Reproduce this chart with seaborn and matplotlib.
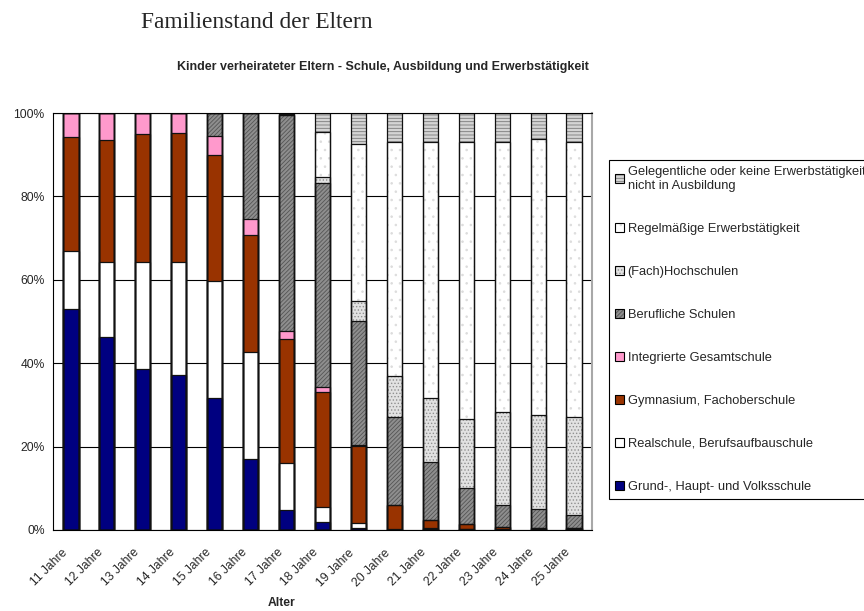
import matplotlib
matplotlib.use("Agg")
import matplotlib.pyplot as plt
import matplotlib.transforms as mtransforms
import seaborn as sns
import pandas as pd
from matplotlib.patches import Patch

# Data (percent of children per age group)
ages = ["11 Jahre", "12 Jahre", "13 Jahre", "14 Jahre", "15 Jahre", "16 Jahre", "17 Jahre",
        "18 Jahre", "19 Jahre", "20 Jahre", "21 Jahre", "22 Jahre", "23 Jahre", "24 Jahre", "25 Jahre"]
grund = [53.0, 46.4, 38.6, 37.1, 31.7, 17.1, 4.8, 1.9, 0.5, 0.1, 0.2, 0.2, 0.1, 0.1, 0.1]
real = [14.0, 17.8, 25.7, 27.2, 28.1, 25.5, 11.2, 3.5, 1.1, 0.1, 0.2, 0.1, 0.1, 0.1, 0.1]
gym = [27.2, 29.4, 30.7, 30.9, 30.2, 28.2, 29.9, 27.6, 18.6, 5.9, 2.0, 1.2, 0.6, 0.3, 0.3]
igs = [5.8, 6.4, 5.0, 4.8, 4.4, 3.8, 1.9, 1.2, 0.2, 0.0, 0.0, 0.0, 0.0, 0.0, 0.0]
beruf = [0.0, 0.0, 0.0, 0.0, 5.6, 25.4, 51.7, 49.0, 29.7, 20.9, 14.0, 8.5, 5.1, 4.6, 3.2]
hoch = [0.0, 0.0, 0.0, 0.0, 0.0, 0.0, 0.0, 1.4, 4.7, 10.0, 15.2, 16.7, 22.5, 22.4, 23.5]
regel = [0.0, 0.0, 0.0, 0.0, 0.0, 0.0, 0.3, 10.8, 37.8, 56.0, 61.4, 66.4, 64.6, 66.3, 65.8]
geleg = [0.0, 0.0, 0.0, 0.0, 0.0, 0.0, 0.2, 4.6, 7.4, 7.0, 7.0, 6.9, 7.0, 6.2, 7.0]

labels = ["Grund-, Haupt- und Volksschule", "Realschule, Berufsaufbauschule",
          "Gymnasium, Fachoberschule", "Integrierte Gesamtschule", "Berufliche Schulen",
          "(Fach)Hochschulen", "Regelmäßige Erwerbstätigkeit",
          "Gelegentliche oder keine Erwerbstätigkeit,\nnicht in Ausbildung"]

# face colour, hatch, hatch colour
styles = [
    ("#000080", None, "#000080"),
    ("#ffffff", None, "#ffffff"),
    ("#993300", None, "#993300"),
    ("#ff99cc", None, "#ff99cc"),
    ("#8e8e8e", "////////", "#555555"),
    ("#e2e2e2", ".....", "#909090"),
    ("#ffffff", "..", "#dcdcdc"),
    ("#d4d4d4", "-----", "#7a7a7a"),
]

df = pd.DataFrame({"Alter": ages})
for lab, vals in zip(labels, [grund, real, gym, igs, beruf, hoch, regel, geleg]):
    df[lab] = vals
cum = df[labels].cumsum(axis=1)

sns.set_theme(style="white")
plt.rcParams["font.family"] = ["Liberation Sans", "DejaVu Sans"]
plt.rcParams["hatch.linewidth"] = 0.6

fig = plt.figure(figsize=(8.64, 6.11), dpi=100)
ax = fig.add_axes([53 / 864, 1 - 530 / 611, (592 - 53) / 864, (530 - 113) / 611])

# filled segments: draw cumulative bars from top series down
for lab, (face, hatch, hcol) in reversed(list(zip(labels, styles))):
    sns.barplot(x=df["Alter"], y=cum[lab], color=face, saturation=1, width=0.42,
                hatch=hatch, edgecolor=hcol, linewidth=0, errorbar=None, ax=ax)
# outlines of segments
for lab in labels:
    sns.barplot(x=df["Alter"], y=cum[lab], fill=False, color="#111111", width=0.42,
                linewidth=0.9, errorbar=None, ax=ax)

ax.set_xlim(-0.5, 14.5)
ax.set_ylim(0, 100)
ax.set_yticks([0, 20, 40, 60, 80, 100])
ax.set_yticklabels(["0%", "20%", "40%", "60%", "80%", "100%"], fontsize=8.7)
ax.yaxis.grid(True, color="black", linewidth=0.8)
ax.set_axisbelow(True)
ax.set_xlabel("")
ax.set_ylabel("")

ax.set_xticks(range(len(ages)))
ax.set_xticks([i - 0.5 for i in range(len(ages) + 1)], minor=True)
ax.tick_params(axis="x", which="major", length=0, pad=12)
ax.tick_params(axis="x", which="minor", length=4, width=0.8, direction="out", color="black")
ax.tick_params(axis="y", length=4, width=0.8, direction="out", color="black", pad=2)
ax.set_xticklabels(ages, rotation=45, ha="right", rotation_mode="anchor", fontsize=8.7)
shift = mtransforms.ScaledTranslation(-10 / 100, 0, fig.dpi_scale_trans)
for t in ax.get_xticklabels():
    t.set_transform(t.get_transform() + shift)

for s in ["left", "bottom", "top"]:
    ax.spines[s].set_color("black")
    ax.spines[s].set_linewidth(0.8)
ax.spines["right"].set_color("#a8a8a8")
ax.spines["right"].set_linewidth(1.5)

# legend (top to bottom in reverse stacking order)
handles = []
for face, hatch, hcol in reversed(styles):
    handles.append((Patch(facecolor=face, hatch=hatch, edgecolor=hcol, linewidth=0),
                    Patch(facecolor="none", edgecolor="black", linewidth=0.8)))
leg = fig.legend(handles, list(reversed(labels)), loc="upper left",
                 bbox_to_anchor=(609 / 864, 1 - 160 / 611), borderaxespad=0,
                 frameon=True, fancybox=False, edgecolor="black", framealpha=1,
                 fontsize=9.3, labelspacing=2.4, handlelength=0.7, handleheight=0.7,
                 handletextpad=0.3, borderpad=0.45)
leg.get_frame().set_linewidth(0.8)

fig.text(257 / 864, 1 - 22 / 611, "Familienstand der Eltern", family=["Liberation Serif"],
         fontsize=16.8, ha="center", va="center")
fig.text(383 / 864, 1 - 67 / 611, "Kinder verheirateter Eltern - Schule, Ausbildung und Erwerbstätigkeit",
         fontsize=9.0, fontweight="bold", ha="center", va="center")
fig.text(282 / 864, 1 - 603 / 611, "Alter", fontsize=8.7, fontweight="bold", ha="center", va="center")

fig.savefig("out.png", dpi=100)
